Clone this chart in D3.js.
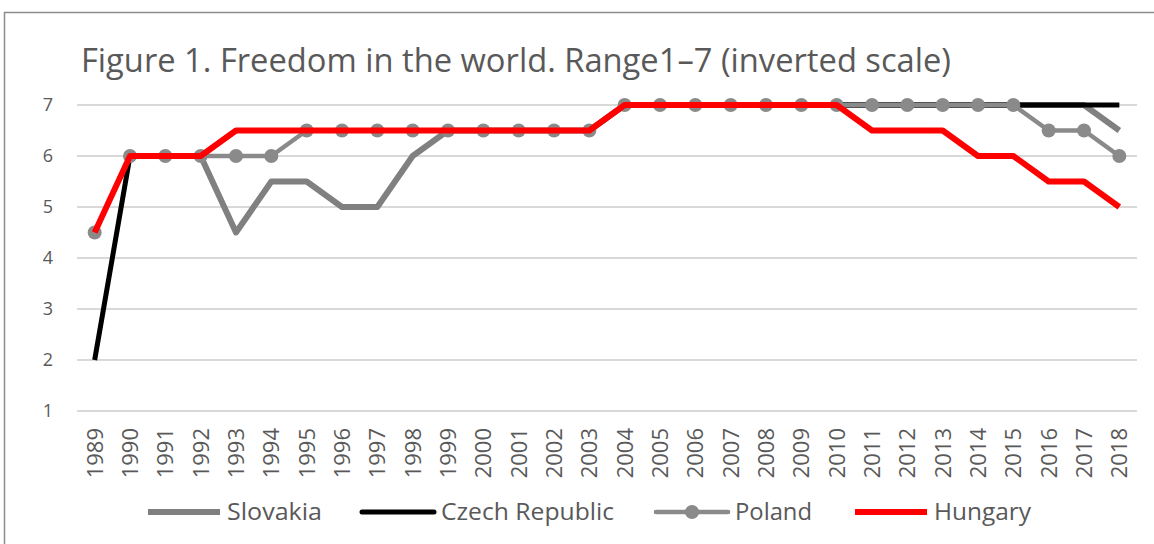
<!DOCTYPE html>
<html>
<head>
<meta charset="utf-8">
<script src="https://d3js.org/d3.v7.min.js"></script>
<style>
  body { margin: 0; background: #fff; }
  text { font-family: "Open Sans", sans-serif; fill: #595959; }
</style>
</head>
<body>
<svg width="1154" height="544"></svg>
<script>
var years = ["1989","1990","1991","1992","1993","1994","1995","1996","1997","1998","1999","2000","2001","2002","2003",
             "2004","2005","2006","2007","2008","2009","2010","2011","2012","2013","2014","2015","2016","2017","2018"];
var slovakia = [null,6,6,6,4.5,5.5,5.5,5,5,6,6.5,6.5,6.5,6.5,6.5,7,7,7,7,7,7,7,7,7,7,7,7,7,7,6.5];
var czech    = [2,6,6,6,6.5,6.5,6.5,6.5,6.5,6.5,6.5,6.5,6.5,6.5,6.5,7,7,7,7,7,7,7,7,7,7,7,7,7,7,7];
var poland   = [4.5,6,6,6,6,6,6.5,6.5,6.5,6.5,6.5,6.5,6.5,6.5,6.5,7,7,7,7,7,7,7,7,7,7,7,7,6.5,6.5,6];
var hungary  = [4.5,6,6,6,6.5,6.5,6.5,6.5,6.5,6.5,6.5,6.5,6.5,6.5,6.5,7,7,7,7,7,7,7,6.5,6.5,6.5,6,6,5.5,5.5,5];
var yTicks = [1,2,3,4,5,6,7];
var title = "Figure 1. Freedom in the world. Range1\u20137 (inverted scale)";

var series = [
  {name: "Slovakia",       values: slovakia, color: "#808080", width: 6,   marker: false, textW: 95},
  {name: "Czech Republic", values: czech,    color: "#000000", width: 5,   marker: false, textW: 173},
  {name: "Poland",         values: poland,   color: "#8a8a8a", width: 4.5, marker: true,  textW: 77},
  {name: "Hungary",        values: hungary,  color: "#ff0000", width: 6,   marker: false, textW: 97}
];

var svg = d3.select("svg");

svg.append("rect")                                                                 // chart frame, runs off the right/bottom
    .attr("x", 4.5).attr("y", 12.5)
    .attr("width", 1200).attr("height", 600)
    .attr("fill", "none")
    .attr("stroke", "#8c8c8c")
    .attr("stroke-width", 1.5);

var x = d3.scaleBand().domain(years).range([77, 1137]);
var y = d3.scaleLinear().domain([1, 7]).range([411, 105]);

svg.append("text")
    .attr("x", 81).attr("y", 72)
    .attr("textLength", 870)
    .attr("lengthAdjust", "spacingAndGlyphs")
    .style("font-size", "32px")
    .text(title);

// gridlines
svg.append("g")
  .selectAll("line")
  .data(yTicks)
  .enter().append("line")
    .attr("x1", 77).attr("x2", 1137)
    .attr("y1", function(d) { return y(d); })
    .attr("y2", function(d) { return y(d); })
    .attr("stroke", "#d9d9d9")
    .attr("stroke-width", 2);

svg.append("g")
  .selectAll("text")
  .data(yTicks)
  .enter().append("text")
    .attr("x", 53)
    .attr("y", function(d) { return y(d) + 6; })
    .attr("text-anchor", "end")
    .style("font-size", "18px")
    .text(function(d) { return d; });

svg.append("g")
  .selectAll("text")
  .data(years)
  .enter().append("text")
    .attr("transform", function(d) {
      return "translate(" + (x(d) + x.bandwidth() / 2 + 8) + ",428) rotate(-90)";
    })
    .attr("text-anchor", "end")
    .style("font-size", "22px")
    .text(function(d) { return d; });

var line = d3.line()
    .defined(function(d) { return d != null; })
    .x(function(d, i) { return x(years[i]) + x.bandwidth() / 2; })
    .y(function(d) { return y(d); });

series.forEach(function(s) {
  svg.append("path")
      .datum(s.values)
      .attr("d", line)
      .attr("fill", "none")
      .attr("stroke", s.color)
      .attr("stroke-width", s.width)
      .attr("stroke-linejoin", "round");
  if (s.marker) {
    svg.append("g")
      .selectAll("circle")
      .data(s.values)
      .enter().append("circle")
        .attr("cx", function(d, i) { return x(years[i]) + x.bandwidth() / 2; })
        .attr("cy", function(d) { return y(d); })
        .attr("r", 7)
        .attr("fill", s.color);
  }
});

// legend
var legendX = [148, 362, 656, 855];
var legend = svg.append("g")
  .selectAll("g")
  .data(series)
  .enter().append("g")
    .attr("transform", function(d, i) { return "translate(" + legendX[i] + ",512)"; });

legend.append("line")
    .attr("x1", 0).attr("x2", 72)
    .attr("stroke", function(d) { return d.color; })
    .attr("stroke-width", function(d) { return d.width; })
    .attr("stroke-linecap", function(d) { return d.name == "Slovakia" || d.name == "Hungary" ? "butt" : "round"; });

legend.filter(function(d) { return d.marker; })
  .append("circle")
    .attr("cx", 36).attr("r", 7)
    .attr("fill", function(d) { return d.color; });

legend.append("text")
    .attr("x", 79).attr("y", 8)
    .attr("textLength", function(d) { return d.textW; })
    .attr("lengthAdjust", "spacingAndGlyphs")
    .style("font-size", "24px")
    .text(function(d) { return d.name; });
</script>
</body>
</html>
